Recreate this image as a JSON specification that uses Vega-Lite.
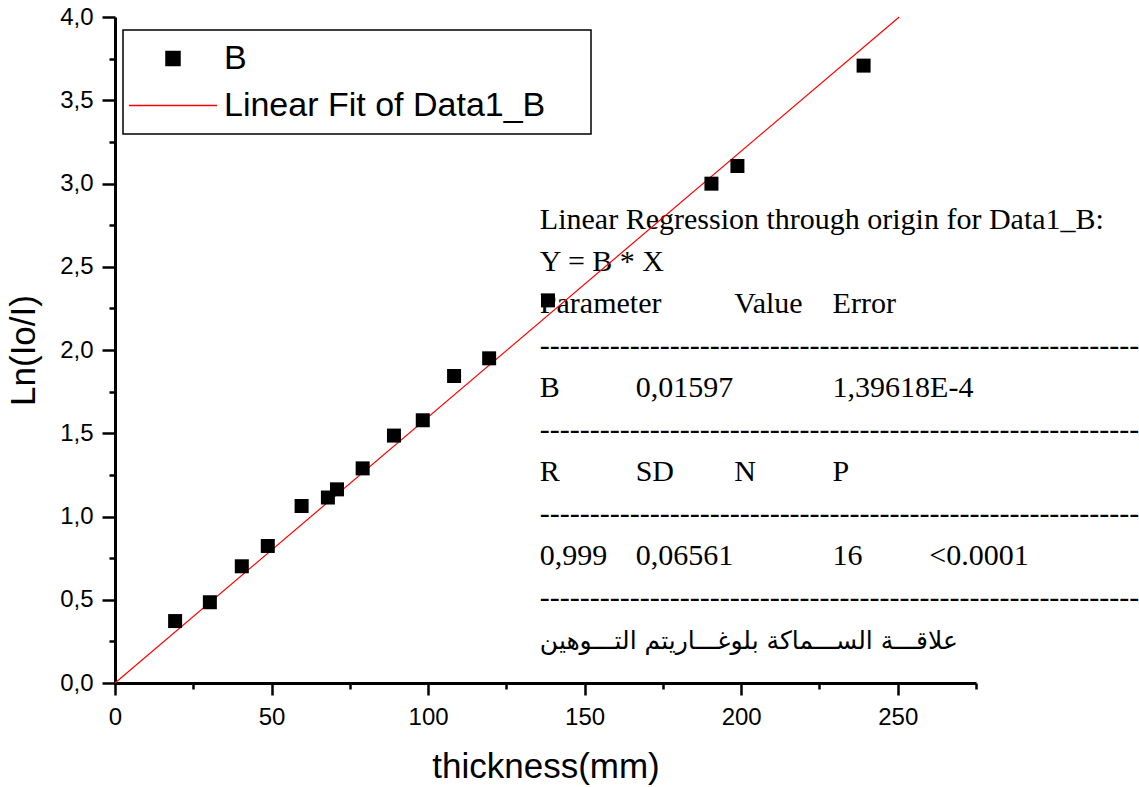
{
  "$schema": "https://vega.github.io/schema/vega-lite/v6.json",
  "width": 861,
  "height": 666,
  "autosize": {"type": "none"},
  "padding": {"left": 115, "top": 17, "right": 163, "bottom": 104},
  "background": "white",
  "config": {
    "view": {"stroke": null},
    "axis": {
      "grid": false,
      "domainColor": "black",
      "domainWidth": 3,
      "tickColor": "black",
      "tickWidth": 2.5,
      "labelFont": "Liberation Sans",
      "labelFontSize": 24,
      "labelColor": "black",
      "titleFont": "Liberation Sans",
      "titleFontSize": 35,
      "titleFontWeight": "normal",
      "titleColor": "black",
      "labelOverlap": false,
      "labelBound": false,
      "labelFlush": false
    },
    "legend": {
      "orient": "none",
      "legendX": 8,
      "legendY": 13,
      "strokeColor": "black",
      "strokeWidth": 1.5,
      "fillColor": "white",
      "padding": 5,
      "labelFont": "Liberation Sans",
      "labelFontSize": 34,
      "labelColor": "black",
      "labelOffset": 6,
      "labelLimit": 0,
      "symbolSize": 7744,
      "symbolStrokeWidth": 1,
      "clipHeight": 47,
      "rowPadding": 0,
      "titleOrient": "right",
      "titlePadding": 41,
      "titleFont": "Liberation Sans",
      "titleFontSize": 34
    }
  },
  "datasets": {
    "measured": [
      {"thickness": 19.2, "lnI": 0.372, "series": "B"},
      {"thickness": 30.3, "lnI": 0.485, "series": "B"},
      {"thickness": 40.5, "lnI": 0.701, "series": "B"},
      {"thickness": 48.8, "lnI": 0.823, "series": "B"},
      {"thickness": 59.6, "lnI": 1.063, "series": "B"},
      {"thickness": 68.0, "lnI": 1.114, "series": "B"},
      {"thickness": 70.9, "lnI": 1.163, "series": "B"},
      {"thickness": 79.1, "lnI": 1.289, "series": "B"},
      {"thickness": 89.1, "lnI": 1.486, "series": "B"},
      {"thickness": 98.3, "lnI": 1.578, "series": "B"},
      {"thickness": 108.3, "lnI": 1.844, "series": "B"},
      {"thickness": 119.5, "lnI": 1.950, "series": "B"},
      {"thickness": 138.3, "lnI": 2.298, "series": "B"},
      {"thickness": 190.5, "lnI": 2.999, "series": "B"},
      {"thickness": 198.8, "lnI": 3.105, "series": "B"},
      {"thickness": 239.1, "lnI": 3.708, "series": "B"}
    ],
    "fit": [
      {"thickness": 0, "lnI": 0, "series": "Linear Fit of Data1_B"},
      {"thickness": 250.47, "lnI": 4.0, "series": "Linear Fit of Data1_B"}
    ],
    "report": [
      {"thickness": 135.7, "lnI": 2.725, "label": "Linear Regression through origin for Data1_B:"},
      {"thickness": 135.7, "lnI": 2.473, "label": "Y = B * X"},
      {"thickness": 135.7, "lnI": 2.221, "label": "Parameter"},
      {"thickness": 197.8, "lnI": 2.221, "label": "Value"},
      {"thickness": 229.2, "lnI": 2.221, "label": "Error"},
      {"thickness": 135.7, "lnI": 1.969, "label": "------------------------------------------------------------"},
      {"thickness": 135.7, "lnI": 1.716, "label": "B"},
      {"thickness": 166.3, "lnI": 1.716, "label": "0,01597"},
      {"thickness": 229.2, "lnI": 1.716, "label": "1,39618E-4"},
      {"thickness": 135.7, "lnI": 1.464, "label": "------------------------------------------------------------"},
      {"thickness": 135.7, "lnI": 1.212, "label": "R"},
      {"thickness": 166.3, "lnI": 1.212, "label": "SD"},
      {"thickness": 197.8, "lnI": 1.212, "label": "N"},
      {"thickness": 229.2, "lnI": 1.212, "label": "P"},
      {"thickness": 135.7, "lnI": 0.959, "label": "------------------------------------------------------------"},
      {"thickness": 135.7, "lnI": 0.707, "label": "0,999"},
      {"thickness": 166.3, "lnI": 0.707, "label": "0,06561"},
      {"thickness": 229.2, "lnI": 0.707, "label": "16"},
      {"thickness": 260.1, "lnI": 0.707, "label": "<0.0001"},
      {"thickness": 135.7, "lnI": 0.455, "label": "------------------------------------------------------------"}
    ],
    "caption": [
      {"thickness": 135.7, "lnI": 0.202, "label": "علاقـــة الســـماكة بلوغـــاريتم التـــوهين"}
    ]
  },
  "encoding": {
    "x": {
      "field": "thickness",
      "type": "quantitative",
      "scale": {"domain": [0, 275], "nice": false, "zero": false},
      "axis": {
        "title": "thickness(mm)",
        "values": [0, 25, 50, 75, 100, 125, 150, 175, 200, 225, 250, 275],
        "tickSize": {"condition": {"test": "datum.value % 50 === 0", "value": 12}, "value": 6},
        "labelExpr": "datum.value % 50 === 0 ? datum.label : ''",
        "labelPadding": 10,
        "titlePadding": 20
      }
    },
    "y": {
      "field": "lnI",
      "type": "quantitative",
      "scale": {"domain": [0, 4], "nice": false, "zero": false},
      "axis": {
        "title": "Ln(Io/I)",
        "values": [0, 0.25, 0.5, 0.75, 1, 1.25, 1.5, 1.75, 2, 2.25, 2.5, 2.75, 3, 3.25, 3.5, 3.75, 4],
        "tickSize": {"condition": {"test": "round(datum.value * 4) % 2 === 0", "value": 13}, "value": 6},
        "labelExpr": "round(datum.value * 4) % 2 === 0 ? replace(format(datum.value, '.1f'), '.', ',') : ''",
        "labelPadding": 9,
        "titlePadding": 18
      }
    }
  },
  "layer": [
    {
      "data": {"name": "report"},
      "mark": {"type": "text", "align": "left", "baseline": "alphabetic", "font": "Liberation Serif", "fontSize": 30, "color": "black"},
      "encoding": {"text": {"field": "label", "type": "nominal"}}
    },
    {
      "data": {"name": "caption"},
      "mark": {"type": "text", "align": "left", "baseline": "alphabetic", "font": "DejaVu Sans", "fontSize": 25, "color": "black"},
      "encoding": {"text": {"field": "label", "type": "nominal"}}
    },
    {
      "data": {"name": "fit"},
      "mark": {"type": "line", "strokeWidth": 1.2},
      "encoding": {
        "color": {
          "field": "series",
          "type": "nominal",
          "scale": {"domain": ["B", "Linear Fit of Data1_B"], "range": ["black", "red"]},
          "legend": {
            "title": " ",
            "encode": {
              "symbols": {
                "update": {
                  "shape": {"signal": "datum.value === 'B' ? 'square' : 'stroke'"},
                  "size": {"signal": "datum.value === 'B' ? 196 : 7744"},
                  "fill": {"signal": "datum.value === 'B' ? 'black' : 'transparent'"},
                  "stroke": {"signal": "datum.value === 'B' ? 'black' : '#ff4040'"},
                  "strokeWidth": {"value": 1.5},
                  "opacity": {"value": 1}
                }
              }
            }
          }
        }
      }
    },
    {
      "data": {"name": "measured"},
      "mark": {"type": "point", "shape": "square", "filled": true, "size": 196, "opacity": 1},
      "encoding": {
        "color": {"field": "series", "type": "nominal"}
      }
    }
  ]
}
